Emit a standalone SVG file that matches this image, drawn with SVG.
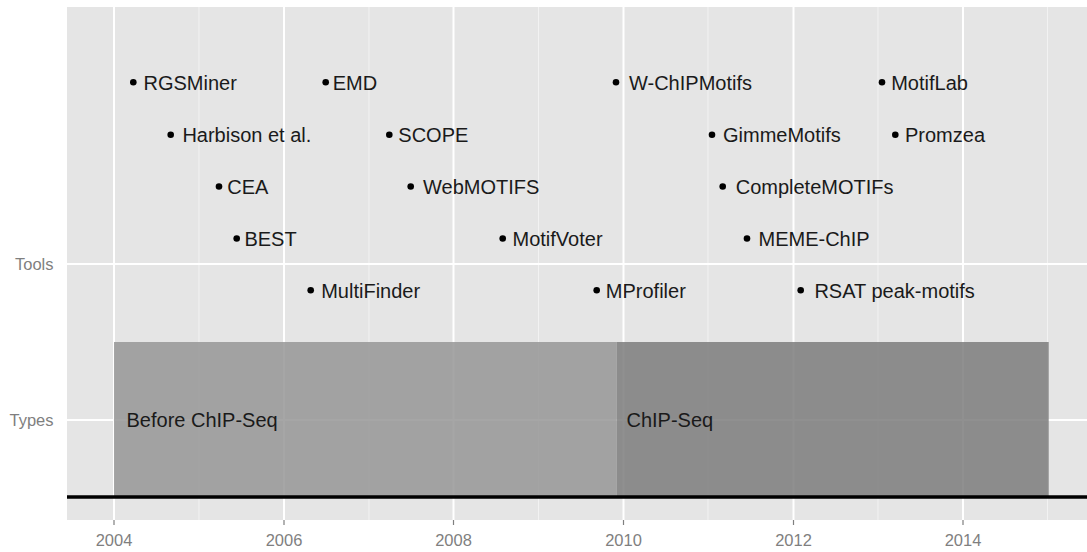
<svg xmlns="http://www.w3.org/2000/svg" width="1087" height="552" viewBox="0 0 1087 552">
<style>
.lbl{font-family:"Liberation Sans",Arial,sans-serif;font-size:20px;fill:#1a1a1a}
.ax{font-family:"Liberation Sans",Arial,sans-serif;font-size:16.5px;fill:#7f7f7f}
.dot{fill:#000}
.maj{stroke:#fff;stroke-width:2}
.min{stroke:#f2f2f2;stroke-width:1}
.tick{stroke:#7f7f7f;stroke-width:1.2}
</style>
<rect width="1087" height="552" fill="#fff"/>
<g id="panel">
<rect x="67" y="7" width="1020" height="513" fill="#e5e5e5"/>
<g id="minor-grid">
<line class="min" x1="199" y1="7" x2="199" y2="520"/>
<line class="min" x1="369" y1="7" x2="369" y2="520"/>
<line class="min" x1="538.5" y1="7" x2="538.5" y2="520"/>
<line class="min" x1="708" y1="7" x2="708" y2="520"/>
<line class="min" x1="878" y1="7" x2="878" y2="520"/>
<line class="min" x1="1047.5" y1="7" x2="1047.5" y2="520"/>
</g>
<g id="major-grid">
<line class="maj" x1="114" y1="7" x2="114" y2="520"/>
<line class="maj" x1="284" y1="7" x2="284" y2="520"/>
<line class="maj" x1="453.5" y1="7" x2="453.5" y2="520"/>
<line class="maj" x1="623.5" y1="7" x2="623.5" y2="520"/>
<line class="maj" x1="793.5" y1="7" x2="793.5" y2="520"/>
<line class="maj" x1="963" y1="7" x2="963" y2="520"/>
<line class="maj" x1="67" y1="264" x2="1087" y2="264"/>
<line class="maj" x1="67" y1="420" x2="1087" y2="420"/>
</g>
</g>
<g id="bar-before">
<rect x="114" y="342" width="502.7" height="155" fill="#929292" fill-opacity="0.82"/>
<text class="lbl" x="126.5" y="427">Before ChIP-Seq</text>
</g>
<g id="bar-chipseq">
<rect x="616.7" y="342" width="432" height="155" fill="#777777" fill-opacity="0.82"/>
<text class="lbl" x="626.5" y="427">ChIP-Seq</text>
</g>
<line id="baseline" x1="67" y1="497" x2="1087" y2="497" stroke="#000" stroke-width="3.5"/>
<g id="connectors"/>
<g id="tools">
<g id="t-rgsminer"><circle class="dot" cx="133.3" cy="82.3" r="3.3"/><text class="lbl" x="143.5" y="89.8">RGSMiner</text></g>
<g id="t-emd"><circle class="dot" cx="325.7" cy="82.3" r="3.3"/><text class="lbl" x="332.7" y="89.8">EMD</text></g>
<g id="t-wchipmotifs"><circle class="dot" cx="616" cy="82.3" r="3.3"/><text class="lbl" x="629" y="89.8">W-ChIPMotifs</text></g>
<g id="t-motiflab"><circle class="dot" cx="882" cy="82.3" r="3.3"/><text class="lbl" x="891.2" y="89.8">MotifLab</text></g>
<g id="t-harbison"><circle class="dot" cx="170.7" cy="134.7" r="3.3"/><text class="lbl" x="182.4" y="142.2">Harbison et al.</text></g>
<g id="t-scope"><circle class="dot" cx="389.3" cy="134.7" r="3.3"/><text class="lbl" x="398.3" y="142.2">SCOPE</text></g>
<g id="t-gimmemotifs"><circle class="dot" cx="712" cy="134.7" r="3.3"/><text class="lbl" x="723" y="142.2">GimmeMotifs</text></g>
<g id="t-promzea"><circle class="dot" cx="895.3" cy="134.7" r="3.3"/><text class="lbl" x="905" y="142.2">Promzea</text></g>
<g id="t-cea"><circle class="dot" cx="219" cy="186.5" r="3.3"/><text class="lbl" x="227.3" y="194">CEA</text></g>
<g id="t-webmotifs"><circle class="dot" cx="410.7" cy="186.5" r="3.3"/><text class="lbl" x="423" y="194">WebMOTIFS</text></g>
<g id="t-completemotifs"><circle class="dot" cx="722.7" cy="186.5" r="3.3"/><text class="lbl" x="735.7" y="194">CompleteMOTIFs</text></g>
<g id="t-best"><circle class="dot" cx="236.7" cy="238.5" r="3.3"/><text class="lbl" x="244.4" y="246">BEST</text></g>
<g id="t-motifvoter"><circle class="dot" cx="502.7" cy="238.5" r="3.3"/><text class="lbl" x="512.5" y="246">MotifVoter</text></g>
<g id="t-memechip"><circle class="dot" cx="747" cy="238.5" r="3.3"/><text class="lbl" x="758.5" y="246">MEME-ChIP</text></g>
<g id="t-multifinder"><circle class="dot" cx="310.7" cy="290.2" r="3.3"/><text class="lbl" x="321.2" y="297.7">MultiFinder</text></g>
<g id="t-mprofiler"><circle class="dot" cx="596.7" cy="290.2" r="3.3"/><text class="lbl" x="605.8" y="297.7">MProfiler</text></g>
<g id="t-rsat"><circle class="dot" cx="800.7" cy="290.2" r="3.3"/><text class="lbl" x="814.4" y="297.7">RSAT peak-motifs</text></g>
</g>
<g id="y-axis">
<text class="ax" x="53.5" y="270" text-anchor="end">Tools</text>
<text class="ax" x="53.5" y="426" text-anchor="end">Types</text>
</g>
<g id="x-axis">
<line class="tick" x1="114" y1="520" x2="114" y2="525"/>
<line class="tick" x1="284" y1="520" x2="284" y2="525"/>
<line class="tick" x1="453.5" y1="520" x2="453.5" y2="525"/>
<line class="tick" x1="623.5" y1="520" x2="623.5" y2="525"/>
<line class="tick" x1="793.5" y1="520" x2="793.5" y2="525"/>
<line class="tick" x1="963" y1="520" x2="963" y2="525"/>
<text class="ax" x="114" y="546" text-anchor="middle">2004</text>
<text class="ax" x="284" y="546" text-anchor="middle">2006</text>
<text class="ax" x="453.5" y="546" text-anchor="middle">2008</text>
<text class="ax" x="623.5" y="546" text-anchor="middle">2010</text>
<text class="ax" x="793.5" y="546" text-anchor="middle">2012</text>
<text class="ax" x="963" y="546" text-anchor="middle">2014</text>
</g>
</svg>
